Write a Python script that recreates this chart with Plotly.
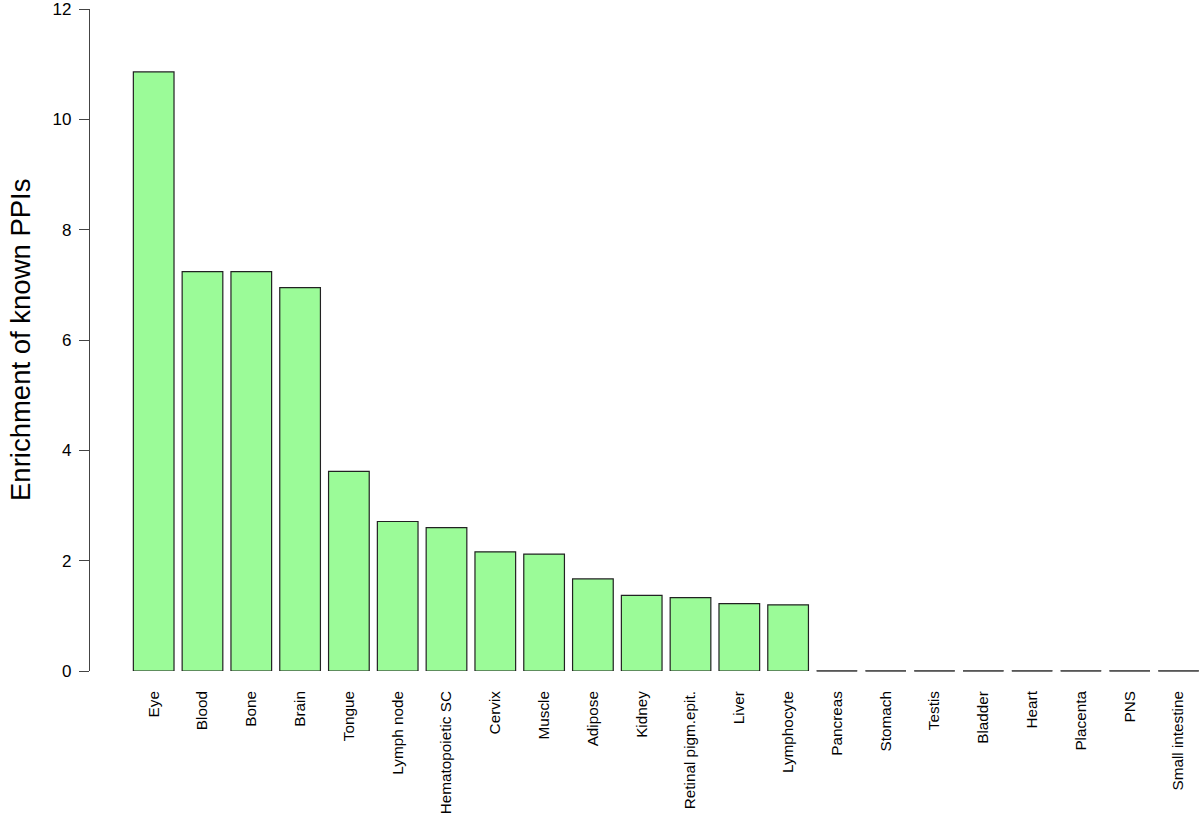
import plotly.graph_objects as go

categories = ["Eye", "Blood", "Bone", "Brain", "Tongue", "Lymph node", "Hematopoietic SC",
              "Cervix", "Muscle", "Adipose", "Kidney", "Retinal pigm.epit.", "Liver",
              "Lymphocyte", "Pancreas", "Stomach", "Testis", "Bladder", "Heart",
              "Placenta", "PNS", "Small intestine"]
values = [10.86, 7.24, 7.24, 6.95, 3.62, 2.71, 2.60, 2.16, 2.12, 1.67, 1.37, 1.33, 1.22,
          1.20, 0, 0, 0, 0, 0, 0, 0, 0]
y_ticks = [0, 2, 4, 6, 8, 10, 12]
y_title = "Enrichment of known PPIs"

FONT = "Liberation Sans, Arial, sans-serif"

fig = go.Figure()
fig.add_trace(go.Bar(
    x=categories, y=values,
    marker=dict(color="#9BFB98", line=dict(color="#222222", width=1.2)),
    cliponaxis=False, showlegend=False, hoverinfo="x+y"))

# zero-height bars are drawn by R as a flat outline; reproduce with line markers
zero_cats = [c for c, v in zip(categories, values) if v == 0]
zero_vals = [v for v in values if v == 0]
fig.add_trace(go.Scatter(
    x=zero_cats, y=zero_vals, mode="markers",
    marker=dict(symbol="line-ew", size=29, line=dict(color="#444444", width=1.5)),
    cliponaxis=False, showlegend=False, hoverinfo="x+y"))

fig.update_layout(
    width=1200, height=828,
    margin=dict(l=90, r=0, t=6, b=157),
    paper_bgcolor="white", plot_bgcolor="white",
    bargap=0.2 / 1.2,
    font=dict(family=FONT, color="black"),
    xaxis=dict(range=[-1.305, 21.44], showline=False, showgrid=False, zeroline=False,
               tickangle=-90, tickfont=dict(size=15.3, family=FONT, color="black"),
               ticks="", ticklabelstandoff=16),
    yaxis=dict(range=[0, 12.0005], tickvals=y_ticks, showline=True, linecolor="#444444",
               linewidth=1.2, ticks="outside", ticklen=10, tickcolor="#444444",
               tickwidth=1.2, showgrid=False, zeroline=False,
               tickfont=dict(size=17, family=FONT, color="black"),
               ticklabelstandoff=4, ticklabeloverflow="allow"),
    annotations=[dict(text=y_title, textangle=-90, x=(20 - 90) / 1110, y=0.5,
                      xref="paper", yref="paper", xanchor="center", yanchor="middle",
                      showarrow=False, font=dict(size=27.5, family=FONT, color="black"))],
)

fig.write_html("out.html", config={"displayModeBar": False},
               post_script="document.body.style.margin='0';")
